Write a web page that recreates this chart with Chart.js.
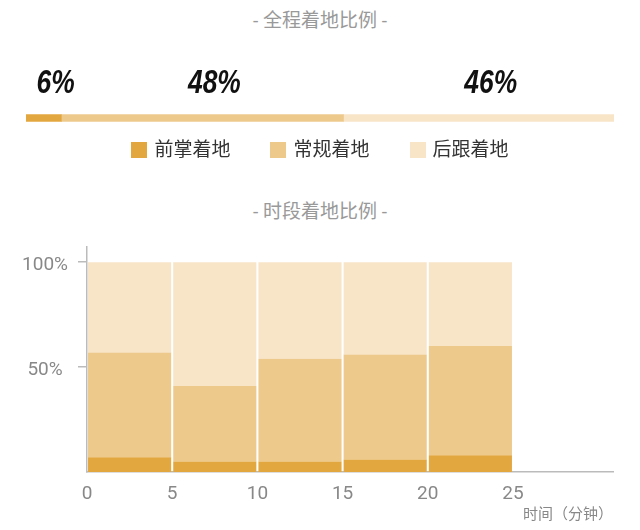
<!DOCTYPE html>
<html>
<head>
<meta charset="utf-8">
<script src="https://cdn.jsdelivr.net/npm/chart.js@4.4.1/dist/chart.umd.min.js"></script>
<style>
  body { margin: 0; background: #fff; font-family: Roboto, "Noto Sans CJK SC", sans-serif; }
  #page { position: relative; width: 640px; height: 530px; overflow: hidden; }
  .title { position: absolute; left: 0; width: 640px; text-align: center; color: #999; font-size: 19px; line-height: 26px; }
  #legend { position: absolute; top: 139px; left: 0; width: 640px; display: flex; justify-content: center; }
  .item { display: flex; align-items: center; margin: 0 20px; font-size: 19px; color: #333; line-height: 22px; }
  .box { width: 16px; height: 16px; margin-right: 7px; }
  canvas { position: absolute; left: 0; }
</style>
</head>
<body>
<div id="page">
  <div class="title" style="top:8px">- 全程着地比例 -</div>
  <canvas id="overallChart" width="640" height="116" style="top:60px"></canvas>
  <div id="legend"></div>
  <div class="title" style="top:199px">- 时段着地比例 -</div>
  <canvas id="periodChart" width="640" height="305" style="top:225px"></canvas>
</div>
<script>
// landing type names and colours
var seriesNames = ['前掌着地', '常规着地', '后跟着地'];
var seriesColors = ['#E3A73F', '#EDCA8C', '#F8E5C8'];

// whole run share (%)
var overall = [6, 48, 46];

// per 5-minute block share (%)
var periodStart = [0, 5, 10, 15, 20];
var periodLen = 5;
var forefoot = [7, 5, 5, 6, 8];
var regular = [50, 36, 49, 50, 52];
var heel = [43, 59, 46, 44, 40];

var xTicks = [0, 5, 10, 15, 20, 25];
var yTicks = [50, 100];

// legend
var legend = document.getElementById('legend');
seriesNames.forEach(function (name, i) {
    var item = document.createElement('div');
    item.className = 'item';
    item.innerHTML = '<span class="box" style="background:' + seriesColors[i] + '"></span>' + name;
    legend.appendChild(item);
});

// Chart 1: overall bar with the big percent numbers
var percentLabels = {
    id: 'percentLabels',
    afterDatasetsDraw: function (chart) {
        var ctx = chart.ctx;
        chart.data.datasets.forEach(function (ds, i) {
            var bar = chart.getDatasetMeta(i).data[0];
            var cx = (bar.x + bar.base) / 2 + 12;
            ctx.save();
            ctx.translate(cx, 24);
            ctx.scale(0.8, 1);   // squeeze it, no condensed font here
            ctx.font = 'italic bold 33px "Liberation Sans", sans-serif';
            ctx.fillStyle = '#111';
            ctx.textAlign = 'center';
            ctx.textBaseline = 'middle';
            ctx.fillText(overall[i] + '%', 0, 0);
            ctx.restore();
        });
    }
};

var ctx = document.getElementById('overallChart').getContext('2d');
var overallChart = new Chart(ctx, {
    type: 'bar',
    data: {
        labels: ['全程'],
        datasets: seriesNames.map(function (name, i) {
            return {
                label: name,
                data: [overall[i]],
                backgroundColor: seriesColors[i],
                borderWidth: 0,
                barThickness: 7
            };
        })
    },
    options: {
        indexAxis: 'y',
        responsive: false,
        animation: false,
        layout: { padding: { left: 26, right: 26, top: 0, bottom: 0 } },
        scales: {
            x: { display: false, stacked: true, min: 0, max: 100 },
            y: { display: false, stacked: true }
        },
        plugins: { legend: { display: false }, tooltip: { enabled: false } }
    },
    plugins: [percentLabels]
});

// Chart 2: stacked bars per time block
var blocks = [forefoot, regular, heel];
var ctx2 = document.getElementById('periodChart').getContext('2d');
var periodChart = new Chart(ctx2, {
    type: 'bar',
    data: {
        datasets: seriesNames.map(function (name, i) {
            return {
                label: name,
                data: periodStart.map(function (s, j) {
                    return { x: s + periodLen / 2, y: blocks[i][j] };
                }),
                backgroundColor: seriesColors[i],
                borderWidth: 0,
                barPercentage: 0.976,
                categoryPercentage: 1
            };
        })
    },
    options: {
        responsive: false,
        animation: false,
        layout: { padding: { left: 0, right: 27, top: 19, bottom: 0 } },
        scales: {
            x: {
                type: 'linear',
                offset: false,
                stacked: true,
                min: 0,
                max: 30.87,
                afterBuildTicks: function (scale) {
                    scale.ticks = xTicks.map(function (v) { return { value: v }; });
                },
                afterFit: function (scale) { scale.height = 58; },
                ticks: {
                    color: '#888',
                    font: { family: 'Roboto', size: 19 },
                    padding: 11,
                    maxRotation: 0,
                    autoSkip: false
                },
                grid: { drawOnChartArea: false, drawTicks: false },
                border: { color: '#bbb', width: 1.5 },
                title: {
                    display: true,
                    text: '时间（分钟）',
                    align: 'end',
                    color: '#888',
                    font: { family: '"Noto Sans CJK SC"', size: 15 },
                    padding: { top: 0, bottom: 8 }
                }
            },
            y: {
                stacked: true,
                min: 0,
                max: 107.5,
                afterBuildTicks: function (scale) {
                    scale.ticks = yTicks.map(function (v) { return { value: v }; });
                },
                afterFit: function (scale) { scale.width = 87; },
                ticks: {
                    color: '#888',
                    font: { family: 'Roboto', size: 19 },
                    padding: 10,
                    labelOffset: 3,
                    crossAlign: 'center',
                    callback: function (v) { return v + '%'; }
                },
                grid: { drawOnChartArea: false, drawTicks: true, tickLength: 9, color: '#bbb', lineWidth: 1.5 },
                border: { color: '#bbb', width: 1.5 }
            }
        },
        plugins: { legend: { display: false }, tooltip: { enabled: false } }
    }
});
</script>
</body>
</html>
